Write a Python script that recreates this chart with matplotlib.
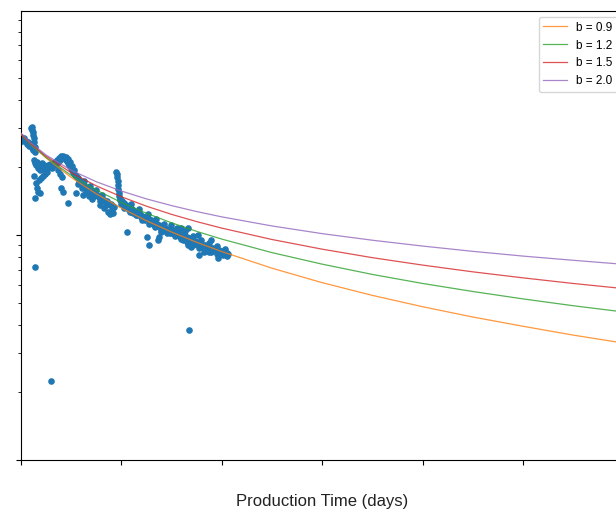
import matplotlib
matplotlib.use("Agg")
import matplotlib.pyplot as plt
from matplotlib.ticker import MultipleLocator

plt.rcParams['font.family'] = ['Liberation Sans', 'DejaVu Sans']

# ---- production data (days, rate) ----
prod_days = [
    0, 1, 2, 3, 4, 5, 6, 7, 8, 9, 10, 0, 1, 3, 6, 8, 11, 12,
    10, 11, 11, 12, 12, 13, 13, 14, 14,
    13, 14, 15, 16, 17, 18, 19, 20, 21, 22, 23, 24, 25, 26, 27, 28, 29, 30, 31, 32, 33, 34, 35, 36, 37, 38, 39,
    13, 15, 16, 14, 17, 18, 20, 22, 24, 26, 19,
    40, 41, 42, 43, 44, 45, 46, 47, 48, 49, 50, 51, 52, 53, 54, 55, 56, 57, 45, 47, 49, 51, 53,
    40, 42, 47, 55, 57, 37, 39, 41,
    58, 59, 60, 61, 62, 63, 64, 65, 66, 67, 68, 69, 70, 71, 72, 73, 74, 75, 76, 77, 78, 79, 80, 81, 82, 83,
    84, 85, 86, 87, 88, 89, 90, 91, 92, 93,
    62, 65, 68, 71, 79, 83, 87, 89, 91, 92,
    61, 67, 73, 79, 85, 63, 69, 75, 81,
    95, 96, 96, 97, 97, 97, 98, 98, 99,
    99, 101, 103, 105, 107, 109, 111, 113, 115, 117, 119, 121, 123, 125, 127, 129, 131, 133, 135, 137, 139,
    141, 143, 145, 147, 149,
    100, 104, 108, 112, 116, 120, 124, 128, 132, 136, 140, 144, 148,
    103, 109, 115, 121, 127, 133, 139, 145,
    110, 118, 126, 134, 142,
    106, 125, 127, 136, 137, 139,
    151, 153, 155, 157, 159, 161, 163, 165, 167, 169, 171, 173, 175, 177, 179, 181, 183, 185, 187, 189, 191,
    193, 195, 197, 199, 201, 203, 205,
    150, 154, 158, 162, 166, 170, 174, 178, 182, 186, 190, 194, 198, 202, 206,
    153, 159, 165, 171, 177, 183, 189, 195, 201, 205,
    155, 163, 171, 179, 187, 195, 203,
    149, 159, 166, 176, 189,
    161, 166, 169, 177, 182, 187, 196, 202,
    14, 30, 167,
]
prod_rate = [
    267.3, 267.3, 264.6, 264.6, 261.9, 261.9, 259.2, 259.2, 256.6, 254.0, 251.4, 272.8, 261.9, 270.1, 254.0, 248.8, 243.7, 238.8,
    299.2, 302.3, 293.1, 287.2, 278.5, 270.1, 259.2, 246.2, 234.0,
    215.6, 209.0, 204.8, 211.2, 198.6, 204.8, 194.6, 202.7, 209.0, 198.6, 204.8, 194.6, 202.7, 198.6, 204.8, 200.6,
    206.9, 202.7, 198.6, 209.0, 204.8, 211.2, 206.9, 215.6, 211.2, 220.0, 215.6,
    183.0, 170.3, 161.8, 146.1, 155.3, 175.6, 179.3, 183.0, 186.7, 190.6, 153.7,
    224.6, 222.3, 224.6, 220.0, 220.0, 215.6, 213.4, 209.0, 204.8, 202.7, 198.6, 194.6, 190.6, 186.7, 184.8, 183.0,
    181.1, 179.3, 222.3, 217.8, 211.2, 202.7, 194.6,
    161.8, 155.3, 138.8, 153.7, 168.6, 194.6, 186.7, 181.1,
    175.6, 172.1, 170.3, 168.6, 165.1, 166.8, 163.5, 161.8, 160.1, 161.8, 158.5, 156.9, 158.5, 155.3, 153.7, 155.3,
    152.2, 150.6, 150.6, 149.1, 147.6, 146.1, 147.6, 144.6, 143.1, 143.1,
    141.6, 140.2, 141.6, 138.8, 137.3, 135.9, 137.3, 134.6, 134.6, 133.2,
    150.6, 155.3, 149.1, 144.6, 135.9, 131.8, 126.5, 124.0, 129.2, 125.2,
    161.8, 155.3, 149.1, 141.6, 135.9, 173.8, 165.1, 158.5, 150.6,
    190.6, 186.7, 181.1, 173.8, 166.8, 160.1, 153.7, 149.1, 144.6,
    143.1, 141.6, 138.8, 135.9, 134.6, 131.8, 130.5, 127.8, 126.5, 125.2, 124.0, 121.5, 120.2, 119.0, 117.8, 116.6,
    115.4, 113.1, 111.9, 110.8, 109.6, 108.5, 107.4, 106.3, 105.2, 104.2,
    137.3, 133.2, 129.2, 125.2, 122.7, 120.2, 116.6, 114.2, 110.8, 109.6, 106.3, 104.2, 102.1,
    131.8, 126.5, 122.7, 116.6, 111.9, 108.5, 105.2, 102.1,
    137.3, 130.5, 124.0, 117.8, 111.9,
    103.1, 98.0, 90.3, 95.0, 98.0, 103.1,
    105.2, 104.2, 103.1, 102.1, 101.0, 100.0, 99.0, 98.0, 97.0, 96.0, 95.0, 94.0, 93.1, 92.1, 91.2, 90.3, 90.3,
    89.3, 88.4, 87.5, 87.5, 86.6, 85.8, 85.8, 84.9, 84.0, 84.0, 83.2,
    102.1, 100.0, 98.0, 97.0, 95.0, 93.1, 91.2, 89.3, 88.4, 86.6, 85.8, 84.9, 84.0, 82.3, 82.3,
    99.0, 96.0, 93.1, 90.3, 87.5, 85.8, 84.0, 82.3, 81.5, 80.7,
    107.4, 104.2, 99.0, 95.0, 92.1, 89.3, 86.6,
    110.8, 107.4, 107.4, 100.0, 95.0,
    95.0, 90.3, 88.4, 81.5, 84.0, 84.0, 79.0, 84.0,
    72.0, 22.4, 37.8,
]

# ---- hyperbolic decline curves ----
curve_days = [0, 5, 10, 25, 50, 75, 100, 125, 150, 175, 200, 250, 300, 350, 400, 450, 500, 550, 600]
q_b09 = [280, 265.6, 252.6, 219.9, 180.3, 152.4, 131.7, 115.7, 103.1, 92.8, 84.4, 71.2, 61.4, 53.9, 48.0, 43.2, 39.3, 35.9, 33.1]
q_b12 = [280, 265.6, 252.8, 221.2, 184.1, 158.4, 139.5, 124.9, 113.3, 103.8, 95.9, 83.5, 74.2, 66.8, 60.9, 56.1, 52.0, 48.5, 45.5]
q_b15 = [281, 266.8, 254.2, 224.0, 189.2, 165.4, 147.9, 134.3, 123.5, 114.7, 107.3, 95.5, 86.5, 79.3, 73.5, 68.6, 64.5, 60.9, 57.8]
q_b20 = [284, 269.1, 256.3, 226.7, 194.1, 172.5, 156.8, 144.7, 135.1, 127.1, 120.4, 109.7, 101.4, 94.8, 89.3, 84.6, 80.6, 77.2, 74.1]
b_labels = ['b = 0.9', 'b = 1.2', 'b = 1.5', 'b = 2.0']
b_colors = ['tab:orange', 'tab:green', 'tab:red', 'tab:purple']

fig = plt.figure(figsize=(6.16, 5.12), dpi=100)
ax = fig.add_axes([21 / 616, 52 / 512, 602.4 / 616, 449 / 512])

ax.scatter(prod_days, prod_rate, s=14, color='#1f77b4', zorder=2)
for q, lab, col in zip([q_b09, q_b12, q_b15, q_b20], b_labels, b_colors):
    ax.plot(curve_days, q, color=col, lw=0.9, alpha=0.8, label=lab, zorder=3)

ax.set_yscale('log')
ax.set_ylim(10, 990)
ax.set_xlim(0, 600)
ax.xaxis.set_major_locator(MultipleLocator(100))
ax.tick_params(labelleft=False, labelbottom=False)
ax.set_xlabel('Production Time (days)', fontsize=12, color='#222222')
ax.xaxis.set_label_coords(0.5, -0.075)

ax.legend(loc='upper right', fontsize=8.5)

fig.savefig('out.png', dpi=100)
